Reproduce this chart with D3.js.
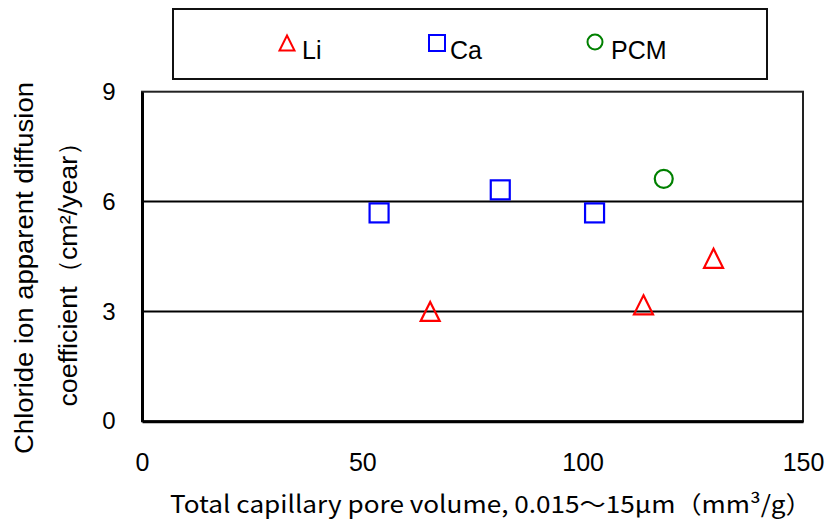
<!DOCTYPE html>
<html><head><meta charset="utf-8">
<script src="https://cdn.jsdelivr.net/npm/d3@7"></script>
<style>body{margin:0;background:#fff}svg{display:block}</style>
</head><body>
<script>
const liX = [65.4, 113.8, 129.7];
const liY = [3.0, 3.18, 4.45];
const caX = [53.8, 81.3, 102.7];
const caY = [5.69, 6.32, 5.69];
const pcmX = [118.4];
const pcmY = [6.62];
const xTicks = [0, 50, 100, 150];
const yTicks = [0, 3, 6, 9];
const gridValues = [3, 6];
const seriesNames = ["Li", "Ca", "PCM"];
const seriesColors = ["#ff0000", "#0000ff", "#008000"];

const W = 830, H = 527;
const svg = d3.select("body").append("svg").attr("width", W).attr("height", H);
const x = d3.scaleLinear().domain([0, 150]).range([142, 803]);
const y = d3.scaleLinear().domain([0, 9]).range([421.3, 91.7]);

// frame
svg.append("rect").attr("x", x(0)).attr("y", y(9)).attr("width", x(150) - x(0)).attr("height", y(0) - y(9))
  .attr("fill", "none").attr("stroke", "#222").attr("stroke-width", 2);

// gridlines
svg.selectAll(".grid").data(gridValues).enter().append("line")
  .attr("x1", x(0)).attr("x2", x(150)).attr("y1", d => y(d)).attr("y2", d => y(d))
  .attr("stroke", "#000").attr("stroke-width", 2);

// axes
const xAxis = d3.axisBottom(x).tickValues(xTicks).tickSize(0).tickPadding(32);
const gx = svg.append("g").attr("transform", `translate(0,${y(0)})`).call(xAxis);
gx.select(".domain").attr("stroke", "#000").attr("stroke-width", 3);
gx.selectAll("text").attr("font-family", "'Liberation Sans Narrow','Liberation Sans',Arial,sans-serif")
  .attr("font-size", 25).attr("fill", "#000");

const yAxis = d3.axisLeft(y).tickValues(yTicks).tickSize(0).tickPadding(25);
const gy = svg.append("g").attr("transform", `translate(${x(0)},0)`).call(yAxis);
gy.select(".domain").attr("stroke", "#000").attr("stroke-width", 3);
gy.selectAll("text").attr("font-family", "'Liberation Sans',Arial,sans-serif")
  .attr("font-size", 24).attr("fill", "#000").attr("text-anchor", "middle").attr("dx", "-8");

// markers
const triPath = s => `M0,${-s/2}L${s/2},${s/2}L${-s/2},${s/2}Z`;
const g = svg.append("g").attr("fill", "none").attr("stroke-width", 2.2);
g.selectAll(".li").data(liX.map((v, i) => [v, liY[i]])).enter().append("path")
  .attr("d", triPath(19)).attr("transform", d => `translate(${x(d[0])},${y(d[1])})`)
  .attr("stroke", seriesColors[0]);
g.selectAll(".ca").data(caX.map((v, i) => [v, caY[i]])).enter().append("rect")
  .attr("x", d => x(d[0]) - 9.5).attr("y", d => y(d[1]) - 9.5).attr("width", 19).attr("height", 19)
  .attr("stroke", seriesColors[1]);
g.selectAll(".pcm").data(pcmX.map((v, i) => [v, pcmY[i]])).enter().append("circle")
  .attr("cx", d => x(d[0])).attr("cy", d => y(d[1])).attr("r", 9)
  .attr("stroke", seriesColors[2]);

// legend
svg.append("rect").attr("x", 173).attr("y", 9).attr("width", 594).attr("height", 70)
  .attr("fill", "#fff").attr("stroke", "#111").attr("stroke-width", 2);
const legItems = [
  {name: seriesNames[0], mx: 287, my: 43, tx: 302},
  {name: seriesNames[1], mx: 437, my: 43, tx: 450},
  {name: seriesNames[2], mx: 595, my: 42, tx: 611}
];
const lg = svg.append("g");
lg.append("path").attr("d", triPath(15)).attr("transform", `translate(${legItems[0].mx},${legItems[0].my})`)
  .attr("fill", "none").attr("stroke", seriesColors[0]).attr("stroke-width", 2);
lg.append("rect").attr("x", legItems[1].mx - 8).attr("y", legItems[1].my - 8).attr("width", 16).attr("height", 16)
  .attr("fill", "none").attr("stroke", seriesColors[1]).attr("stroke-width", 2);
lg.append("circle").attr("cx", legItems[2].mx).attr("cy", legItems[2].my).attr("r", 7.5)
  .attr("fill", "none").attr("stroke", seriesColors[2]).attr("stroke-width", 2);
lg.selectAll("text").data(legItems).enter().append("text")
  .attr("x", d => d.tx).attr("y", 59).text(d => d.name)
  .attr("font-family", "'Liberation Sans',Arial,sans-serif").attr("font-size", 25).attr("fill", "#000");

// y title (two separate lines, scaled to measured length)
const yTitle = [
  {text: "Chloride ion apparent diffusion", y: 33, len: 372},
  {text: "coefficient（cm²/year）", y: 77, len: 278}
];
svg.selectAll(".ytitle").data(yTitle).enter().append("text")
  .attr("x", 0).attr("y", 0)
  .attr("text-anchor", "middle").attr("font-family", "'Liberation Sans',Arial,sans-serif")
  .attr("font-size", 26).attr("fill", "#000")
  .text(d => d.text)
  .each(function(d) {
    const w = this.getBBox().width || d.len;
    d3.select(this).attr("transform", `translate(${d.y},268) rotate(-90) scale(${d.len / w},1)`);
  });

// x title
const xt = svg.append("text").attr("x", 0).attr("y", 0)
  .attr("font-family", "'Noto Sans CJK JP',sans-serif").attr("font-size", 24).attr("fill", "#000")
  .text("Total  capillary pore volume, 0.015～15μm（mm³/g）");
const xw = xt.node().getBBox().width || 642;
xt.attr("transform", `translate(170,513) scale(${642 / xw},1)`);
</script>
</body></html>
